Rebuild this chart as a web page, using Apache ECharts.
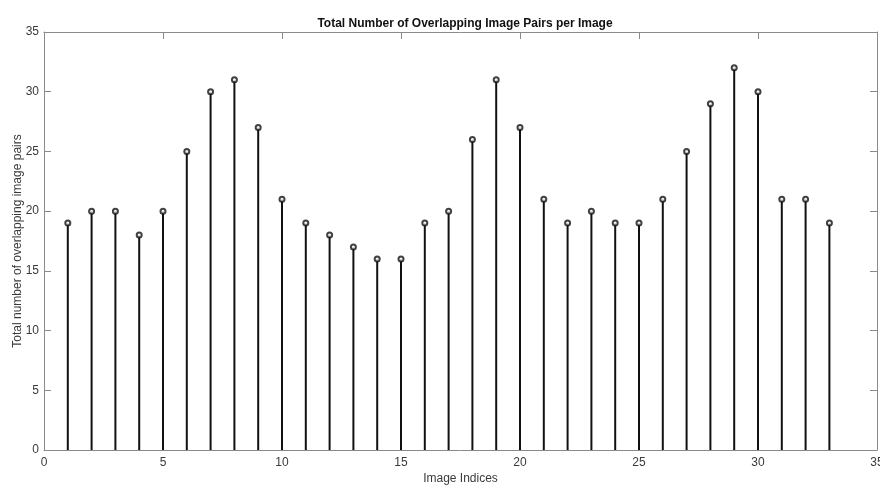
<!DOCTYPE html>
<html><head><meta charset="utf-8">
<script src="https://cdn.jsdelivr.net/npm/echarts@6/dist/echarts.min.js"></script>
<style>html,body{margin:0;padding:0;background:#fff}#c{width:880px;height:485px}</style>
</head><body><div id="c"></div>
<script>
var indices = [1,2,3,4,5,6,7,8,9,10,11,12,13,14,15,16,17,18,19,20,21,22,23,24,25,26,27,28,29,30,31,32,33];
var pairs = [19,20,20,18,20,25,30,31,27,21,19,18,17,16,16,19,20,26,31,27,21,19,20,19,19,21,25,29,32,30,21,21,19];
var xTicks = [0,5,10,15,20,25,30,35];
var yTicks = [0,5,10,15,20,25,30,35];

var pts = indices.map(function(x,i){return [x,pairs[i]];});
var axCol = '#8a8a8a', txtCol = '#3a3a3a', font = 'Liberation Sans';
function ax(pos, show, extra){
  var o = {type:'value', min:0, max:35, interval:5, position:pos,
    axisLine:{show:true, onZero:false, lineStyle:{color:axCol, width:1}},
    axisTick:{show:true, inside:true, length:7, lineStyle:{color:axCol}},
    axisLabel:{show:show, color:txtCol, fontSize:12, fontFamily:font},
    splitLine:{show:false}};
  for (var k in extra) o[k]=extra[k];
  return o;
}
var chart = echarts.init(document.getElementById('c'));
chart.setOption({
  animation:false,
  title:{text:'Total Number of Overlapping Image Pairs per Image', left:460, textAlign:'center', top:13,
    textStyle:{fontSize:12, fontWeight:'bold', color:'#111', fontFamily:font}},
  grid:{left:44, right:3, top:32, bottom:35, containLabel:false, outerBoundsMode:'none'},
  xAxis:[ax('bottom', true, {name:'Image Indices', nameLocation:'middle', nameGap:23, nameMoveOverlap:false,
            nameTextStyle:{fontSize:12, color:txtCol, fontFamily:font},
            axisLabel:{show:true, color:txtCol, fontSize:12, fontFamily:font, margin:7}}),
         ax('top', false, {})],
  yAxis:[ax('left', true, {name:'Total number of overlapping image pairs', nameLocation:'middle', nameGap:20, nameMoveOverlap:false,
            nameTextStyle:{fontSize:12, color:txtCol, fontFamily:font},
            axisLabel:{show:true, color:txtCol, fontSize:12, fontFamily:font, margin:5}}),
         ax('right', false, {})],
  series:[
    {type:'bar', data:pts, barWidth:2, itemStyle:{color:'#111'}, xAxisIndex:0, yAxisIndex:0},
    {type:'scatter', data:pts, symbol:'emptyCircle', symbolSize:5, itemStyle:{color:'#111', borderColor:'#111', borderWidth:1.5}, xAxisIndex:0, yAxisIndex:0, z:5}
  ]
});
</script></body></html>
